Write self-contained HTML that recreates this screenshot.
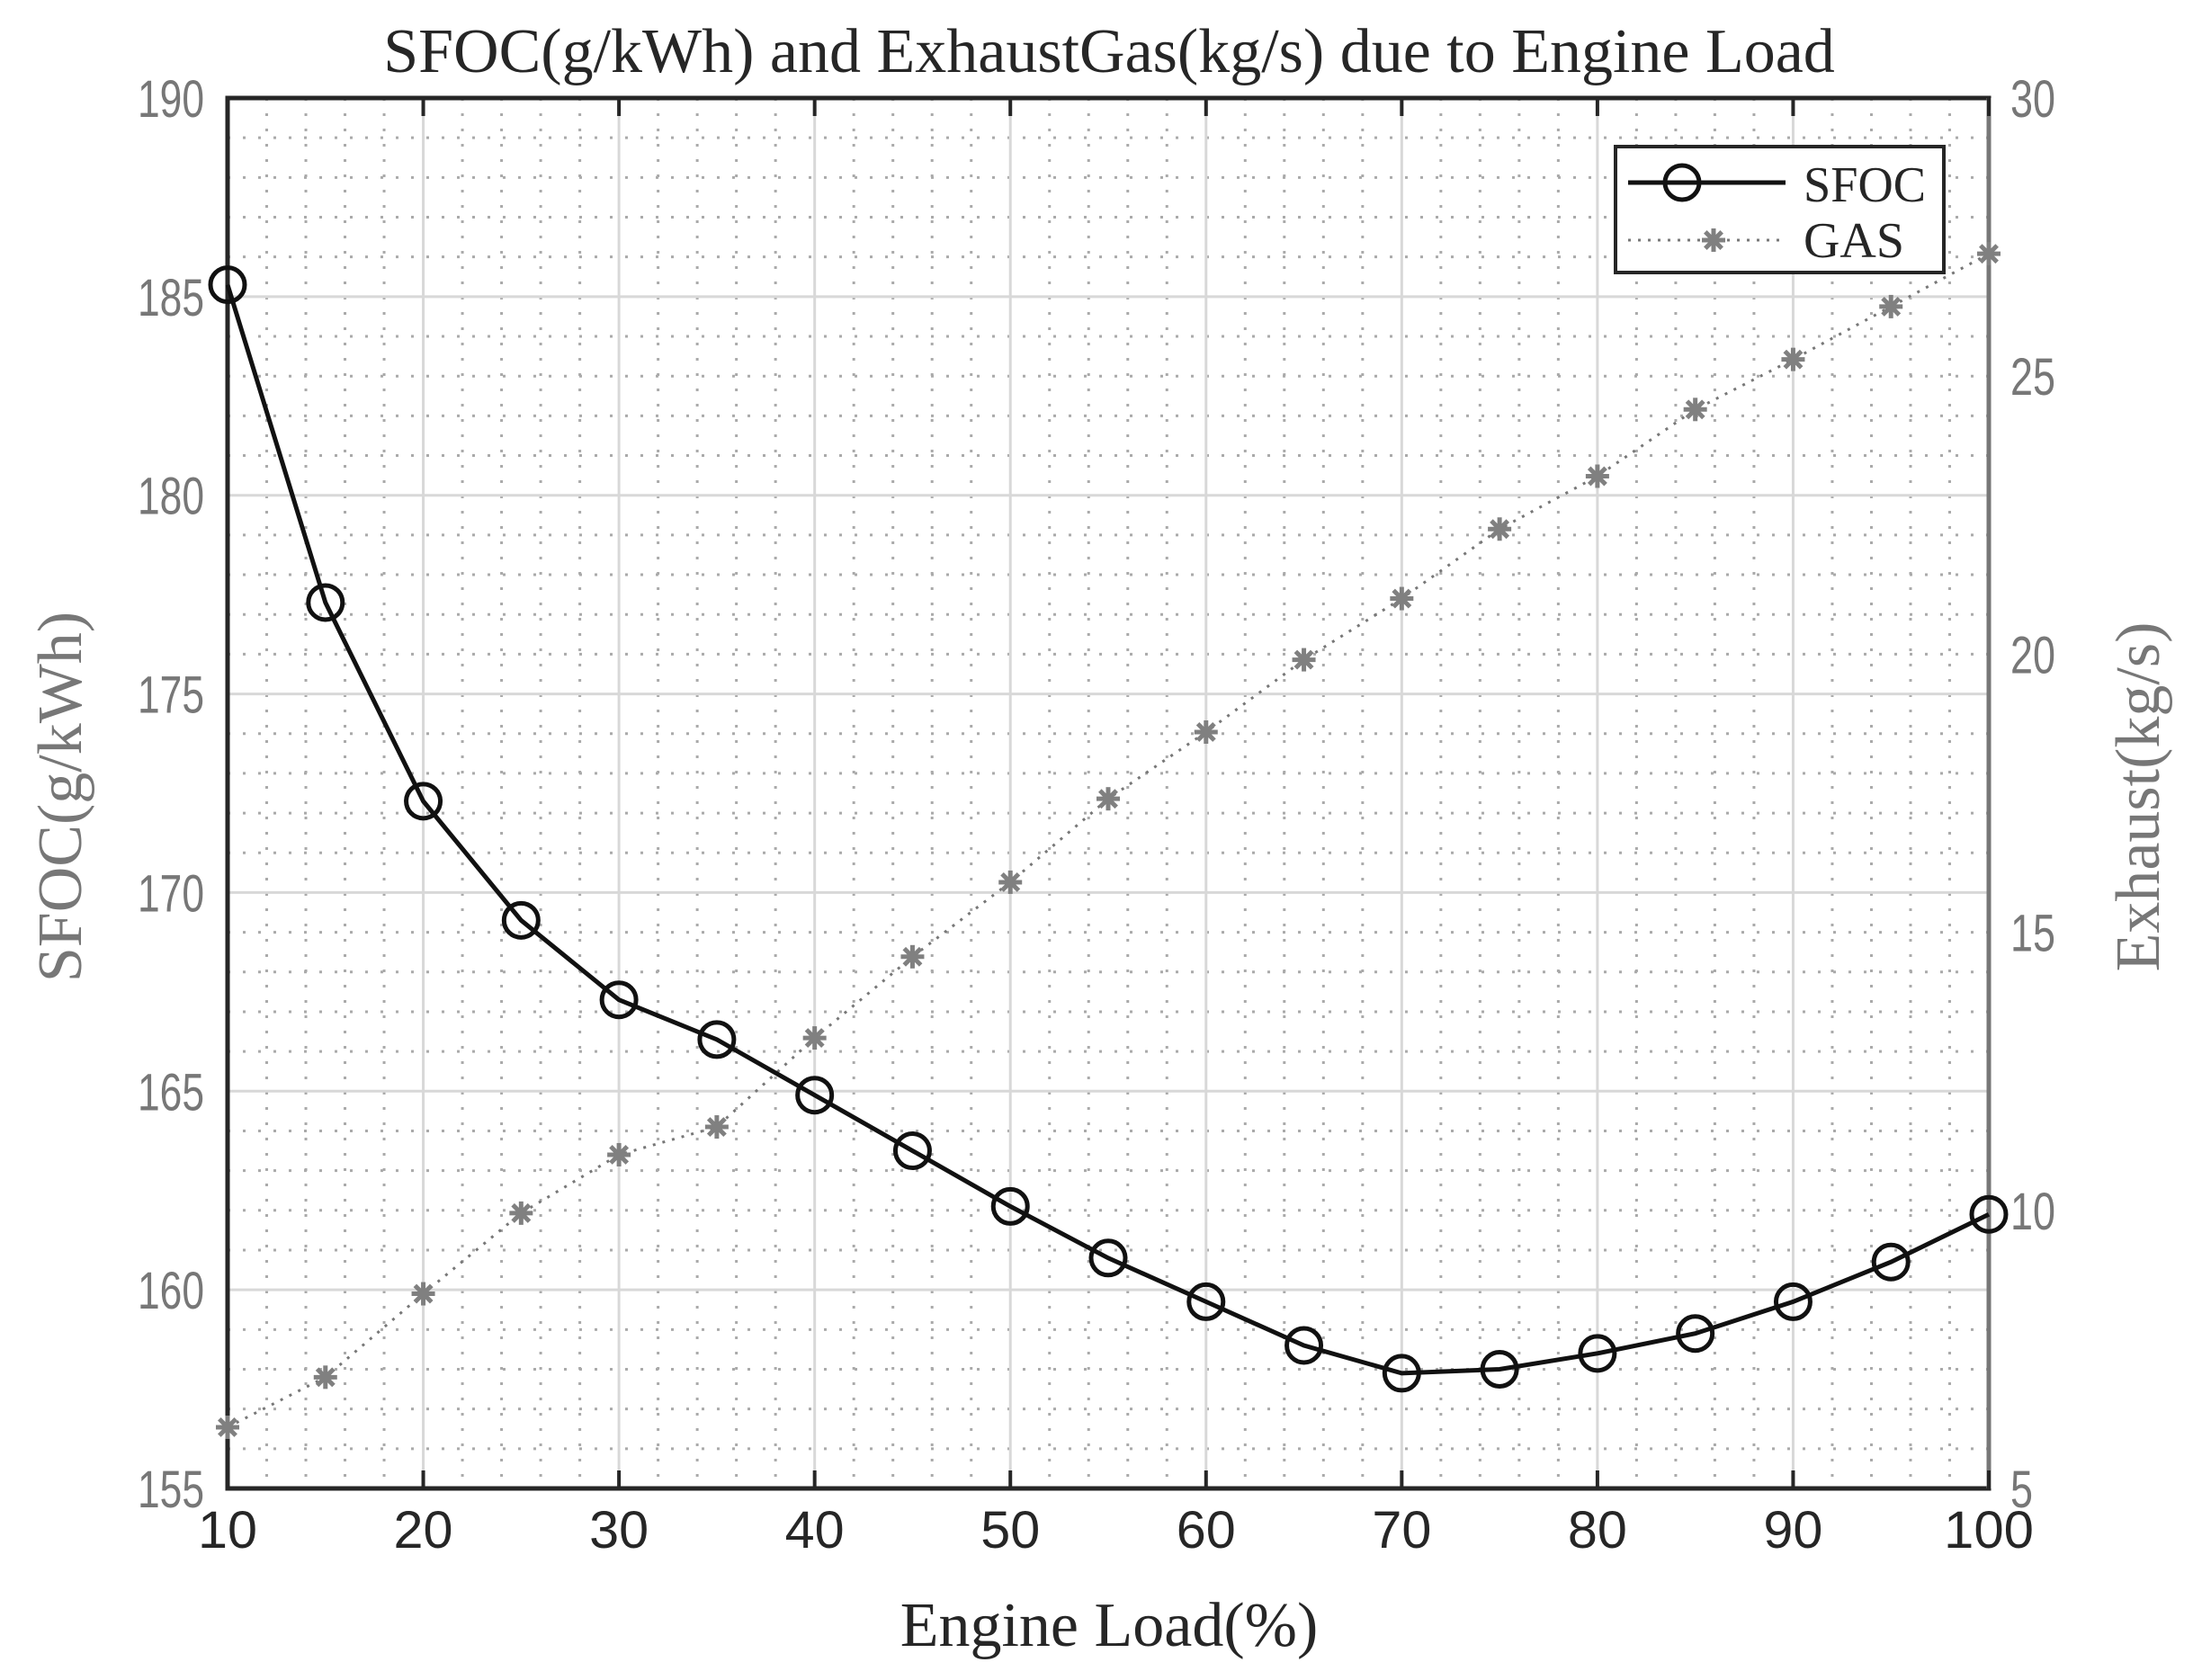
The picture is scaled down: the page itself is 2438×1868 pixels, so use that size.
<!DOCTYPE html>
<html><head><meta charset="utf-8"><style>html,body{margin:0;padding:0;background:#fff}svg{display:block}</style></head>
<body>
<svg id="s" xmlns="http://www.w3.org/2000/svg" width="2438" height="1868" viewBox="0 0 2438 1868"></svg>
<script>
const L=253,R=2211,T=109,B=1655;
const X=v=>L+(v-10)*(R-L)/90, YL=v=>T+(190-v)*(B-T)/35, YR=v=>T+(30-v)*(B-T)/25;
let h='<rect width="2438" height="1868" fill="#fff"/>';
for(let x=12;x<100;x+=2){if(x%10)h+=`<line x1="${X(x)}" y1="${T}" x2="${X(x)}" y2="${B}" stroke="#aaa" stroke-width="3" stroke-dasharray="3,14"/>`;}
for(let y=156;y<190;y++){if(y%5)h+=`<line x1="${L}" y1="${YL(y)}" x2="${R}" y2="${YL(y)}" stroke="#aaa" stroke-width="3" stroke-dasharray="3,14"/>`;}
for(let x=20;x<100;x+=10)h+=`<line x1="${X(x)}" y1="${T}" x2="${X(x)}" y2="${B}" stroke="#d8d8d8" stroke-width="3"/>`;
for(let y=160;y<190;y+=5)h+=`<line x1="${L}" y1="${YL(y)}" x2="${R}" y2="${YL(y)}" stroke="#d8d8d8" stroke-width="3"/>`;
h+=`<path d="M${L} ${T}H${R}V${B}H${L}Z" fill="none" stroke="#262626" stroke-width="5"/>`;
h+=`<line x1="${R}" y1="${T}" x2="${R}" y2="${B}" stroke="#777" stroke-width="5"/>`;
const fs='font-family="Liberation Sans, sans-serif" lengthAdjust="spacingAndGlyphs"';
for(let x=10;x<=100;x+=10){h+=`<line x1="${X(x)}" y1="${B}" x2="${X(x)}" y2="${B-20}" stroke="#262626" stroke-width="4"/><line x1="${X(x)}" y1="${T}" x2="${X(x)}" y2="${T+20}" stroke="#262626" stroke-width="4"/>`;
h+=`<text x="${X(x)}" y="${B+66}" ${fs} font-size="58" fill="#262626" text-anchor="middle" textLength="${x==100?100:66}">${x}</text>`;}
for(let y=155;y<=190;y+=5)h+=`<text x="${L-26}" y="${YL(y)+21}" ${fs} font-size="58" fill="#777" text-anchor="end" textLength="74">${y}</text>`;
for(let y=5;y<=30;y+=5)h+=`<text x="${R+24}" y="${YR(y)+21}" ${fs} font-size="58" fill="#777" textLength="${y<10?25:50}">${y}</text>`;
const sf='font-family="Liberation Serif, serif"';
h+=`<text x="1233" y="80" ${sf} font-size="70" fill="#262626" text-anchor="middle">SFOC(g/kWh) and ExhaustGas(kg/s) due to Engine Load</text>`;
h+=`<text x="1233" y="1830" ${sf} font-size="70" fill="#262626" text-anchor="middle">Engine Load(%)</text>`;
h+=`<text transform="translate(90,886) rotate(-90)" ${sf} font-size="70" fill="#777" text-anchor="middle">SFOC(g/kWh)</text>`;
h+=`<text transform="translate(2400,886) rotate(-90)" ${sf} font-size="70" fill="#777" text-anchor="middle">Exhaust(kg/s)</text>`;
const sfoc=[185.3,177.3,172.3,169.3,167.3,166.3,164.9,163.5,162.1,160.8,159.7,158.6,157.9,158.0,158.4,158.9,159.7,160.7,161.9];
const gas=[6.1,7.0,8.5,9.95,11.0,11.5,13.1,14.56,15.9,17.4,18.6,19.9,21.0,22.25,23.2,24.4,25.3,26.25,27.2];
const star=(x,y,c)=>{let s='';for(let a=0;a<4;a++){const t=a*Math.PI/4,dx=13*Math.cos(t),dy=13*Math.sin(t);s+=`<line x1="${x-dx}" y1="${y-dy}" x2="${x+dx}" y2="${y+dy}" stroke="${c}" stroke-width="5"/>`;}return s;};
let p=gas.map((v,i)=>`${X(10+5*i)},${YR(v)}`).join(' ');
h+=`<polyline points="${p}" fill="none" stroke="#777" stroke-width="3" stroke-dasharray="3,8"/>`;
gas.forEach((v,i)=>h+=star(X(10+5*i),YR(v),'#808080'));
p=sfoc.map((v,i)=>`${X(10+5*i)},${YL(v)}`).join(' ');
h+=`<polyline points="${p}" fill="none" stroke="#111" stroke-width="5"/>`;
sfoc.forEach((v,i)=>h+=`<circle cx="${X(10+5*i)}" cy="${YL(v)}" r="19" fill="none" stroke="#111" stroke-width="5"/>`);
h+=`<rect x="1796" y="163" width="365" height="140" fill="#fff" stroke="#262626" stroke-width="4"/>`;
h+=`<line x1="1810" y1="203" x2="1985" y2="203" stroke="#111" stroke-width="5"/><circle cx="1870" cy="203" r="19" fill="none" stroke="#111" stroke-width="5"/>`;
h+=`<line x1="1810" y1="267" x2="1985" y2="267" stroke="#777" stroke-width="3" stroke-dasharray="3,8"/>`+star(1905,267,'#808080');
h+=`<text x="2005" y="224" ${sf} font-size="56" fill="#262626" textLength="136" lengthAdjust="spacingAndGlyphs">SFOC</text><text x="2005" y="286" ${sf} font-size="56" fill="#262626" textLength="112" lengthAdjust="spacingAndGlyphs">GAS</text>`;
document.getElementById('s').innerHTML=h;
</script>
</body></html>
